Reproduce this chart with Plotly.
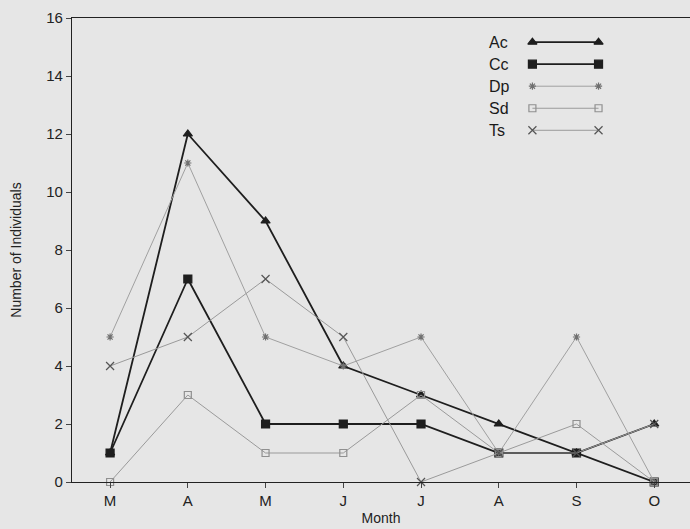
import plotly.graph_objects as go

months = ["M", "A", "M", "J", "J", "A", "S", "O"]
series_names = ["Ac", "Cc", "Dp", "Sd", "Ts"]
ac = [1, 12, 9, 4, 3, 2, 1, 2]
cc = [1, 7, 2, 2, 2, 1, 1, 0]
dp = [5, 11, 5, 4, 5, 1, 5, 0]
sd = [0, 3, 1, 1, 3, 1, 2, 0]
ts = [4, 5, 7, 5, 0, 1, 1, 2]
y_ticks = [0, 2, 4, 6, 8, 10, 12, 14, 16]

values = [ac, cc, dp, sd, ts]
styles = [
    dict(color="#1e1e1e", width=1.8, symbol="triangle-up", msize=8, mcolor="#1e1e1e", dash="solid"),
    dict(color="#1e1e1e", width=1.8, symbol="square", msize=8, mcolor="#1e1e1e", dash="solid"),
    dict(color="#a0a0a0", width=1.0, symbol="asterisk", msize=6, mcolor="#707070", dash="solid"),
    dict(color="#9a9a9a", width=1.0, symbol="square-open", msize=7, mcolor="#909090", dash="solid"),
    dict(color="#9a9a9a", width=1.0, symbol="x-thin-open", msize=8, mcolor="#555555", dash="solid"),
]

BG = "#e6e6e6"
FONT = "Liberation Sans, Arial, sans-serif"

x = list(range(len(months)))
fig = go.Figure()
for name, vals, st in zip(series_names, values, styles):
    fig.add_trace(go.Scatter(
        x=x, y=vals, mode="lines+markers", name=name, showlegend=False,
        line=dict(color=st["color"], width=st["width"], dash=st["dash"]),
        marker=dict(symbol=st["symbol"], size=st["msize"], color=st["mcolor"],
                    line=dict(color=st["mcolor"], width=1.2)),
        cliponaxis=False,
    ))

# custom legend on an overlay axis (0..1 coordinates)
leg_top = 0.948
leg_step = 0.0475
for i, (name, st) in enumerate(zip(series_names, styles)):
    yy = leg_top - i * leg_step
    fig.add_trace(go.Scatter(
        x=[0.745, 0.852], y=[yy, yy], xaxis="x2", yaxis="y2", mode="lines+markers",
        showlegend=False, hoverinfo="skip",
        line=dict(color=st["color"], width=st["width"]),
        marker=dict(symbol=st["symbol"], size=st["msize"], color=st["mcolor"],
                    line=dict(color=st["mcolor"], width=1.2)),
    ))
    fig.add_annotation(x=0.672, y=yy, xref="x2", yref="y2", text=name, showarrow=False,
                       xanchor="left", yanchor="middle",
                       font=dict(family=FONT, size=16, color="#1a1a1a"))

fig.update_layout(
    width=690, height=529,
    margin=dict(l=72, r=0, t=18, b=47),
    paper_bgcolor=BG, plot_bgcolor=BG,
    font=dict(family=FONT, size=15, color="#222"),
    xaxis=dict(
        range=[-0.49, 7.46], tickvals=x, ticktext=months, showgrid=False, zeroline=False,
        showline=True, linecolor="#222", linewidth=1.3, mirror=True,
        ticks="outside", ticklen=5, tickcolor="#444",
        title=dict(text="Month", font=dict(size=14), standoff=5),
    ),
    yaxis=dict(
        range=[0, 16], tickvals=y_ticks, showgrid=False, zeroline=False,
        showline=True, linecolor="#222", linewidth=1.3,
        ticks="outside", ticklen=5, tickcolor="#444",
        title=dict(text="Number of Individuals", font=dict(size=14), standoff=21),
    ),
    xaxis2=dict(range=[0, 1], overlaying="x", visible=False, fixedrange=True),
    yaxis2=dict(range=[0, 1], overlaying="y", visible=False, fixedrange=True),
    showlegend=False,
)

fig.write_html(
    "out.html",
    config={"displayModeBar": False},
    post_script="document.body.style.margin='0';document.body.style.background='%s';" % BG,
)
